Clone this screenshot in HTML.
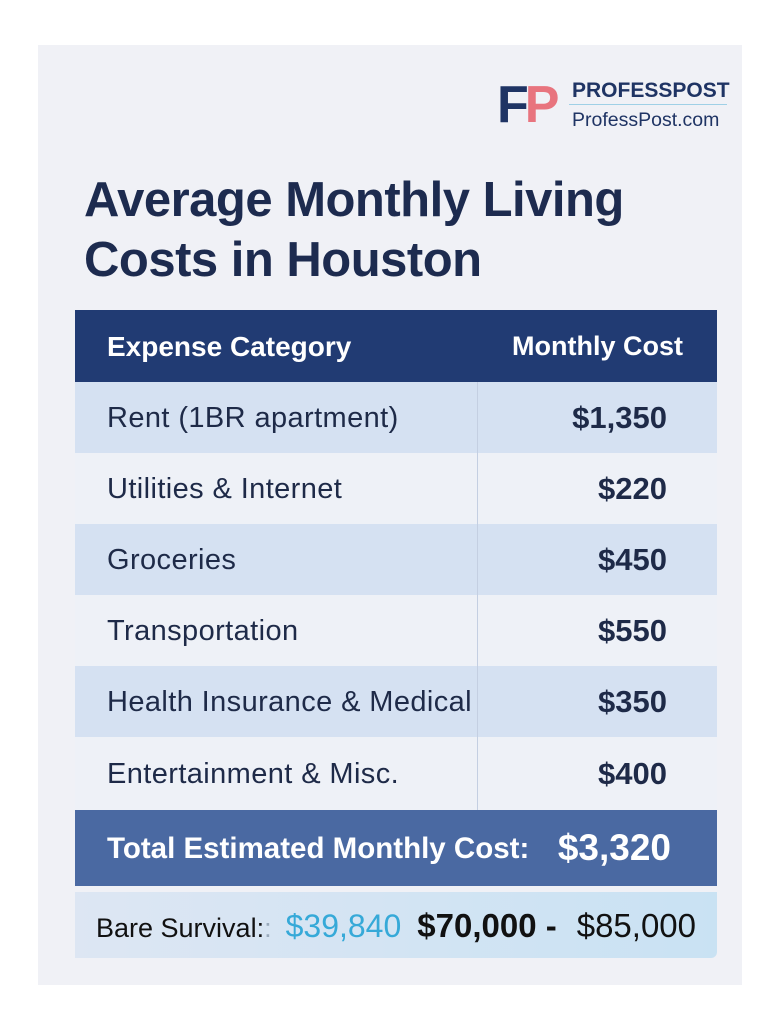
<!DOCTYPE html>
<html><head><style>
body{margin:0;width:783px;height:1024px;background:#fff;font-family:"Liberation Sans",sans-serif;position:relative;overflow:hidden}
.card{position:absolute;left:38px;top:45px;width:704px;height:940px;background:#f0f1f6}
.abs{position:absolute;white-space:nowrap}
.row{position:absolute;left:75px;width:642px;height:71px}
.row .l{position:absolute;left:32px;top:1px;line-height:71px;font-size:29px;letter-spacing:0.4px;color:#1e2a48;white-space:nowrap}
.row .r{position:absolute;right:50px;top:0;line-height:71px;font-size:31px;font-weight:bold;color:#1e2a48}
</style></head><body>
<div class="card"></div>
<div class="abs" style="left:497px;top:78px;font-size:52px;font-weight:bold;letter-spacing:-4px;line-height:54px"><span style="color:#1f3464">F</span><span style="color:#e8747e">P</span></div>
<div class="abs" style="left:572px;top:79px;font-size:21px;font-weight:bold;color:#1f3464">PROFESSPOST</div>
<div class="abs" style="left:569px;top:104px;width:158px;height:1px;background:#9fd0e6"></div>
<div class="abs" style="left:572px;top:109px;font-size:19.5px;color:#1f3464">ProfessPost.com</div>
<div class="abs" style="left:84px;top:170px;font-size:49px;font-weight:bold;color:#1d2b4f;line-height:60px;letter-spacing:-0.5px">Average Monthly Living<br>Costs in Houston</div>
<div class="row" style="top:310px;height:72px;background:#213b73"><div class="l" style="color:#fff;font-weight:bold;line-height:72px;font-size:28px;letter-spacing:0">Expense Category</div><div class="r" style="color:#fff;right:34px;font-size:27px;line-height:72px">Monthly Cost</div></div>
<div class="row" style="top:382px;background:#d5e1f2"><div class="l">Rent (1BR apartment)</div><div class="r">$1,350</div></div>
<div class="row" style="top:453px;background:#eef1f7"><div class="l">Utilities &amp; Internet</div><div class="r">$220</div></div>
<div class="row" style="top:524px;background:#d5e1f2"><div class="l">Groceries</div><div class="r">$450</div></div>
<div class="row" style="top:595px;background:#eef1f7"><div class="l">Transportation</div><div class="r">$550</div></div>
<div class="row" style="top:666px;background:#d5e1f2"><div class="l">Health Insurance &amp; Medical</div><div class="r">$350</div></div>
<div class="row" style="top:737px;height:73px;background:#eef1f7"><div class="l" style="line-height:73px">Entertainment &amp; Misc.</div><div class="r" style="line-height:73px">$400</div></div>
<div class="abs" style="left:477px;top:382px;width:1px;height:428px;background:#c4cfe2"></div>
<div class="row" style="top:810px;height:76px;background:#4a69a2"><div class="l" style="color:#fff;font-weight:bold;line-height:76px;font-size:29.5px;letter-spacing:0">Total Estimated Monthly Cost:</div><div class="r" style="color:#fff;right:46px;font-size:37px;line-height:76px">$3,320</div></div>
<div class="row" style="top:892px;height:66px;background:linear-gradient(90deg,#dde6f3,#c9e2f3);border-radius:0 0 6px 0"><div class="l" style="left:21px;line-height:66px;font-size:27px;letter-spacing:0;color:#111">Bare Survival:<span style="color:#9ab">:</span><span style="color:#36a9d8;font-size:32px;margin-left:14px">$39,840</span><span style="font-size:33px;font-weight:bold;color:#111;margin-left:16px">$70,000 -</span><span style="font-size:33px;color:#111;margin-left:20px">$85,000</span></div></div>
</body></html>
